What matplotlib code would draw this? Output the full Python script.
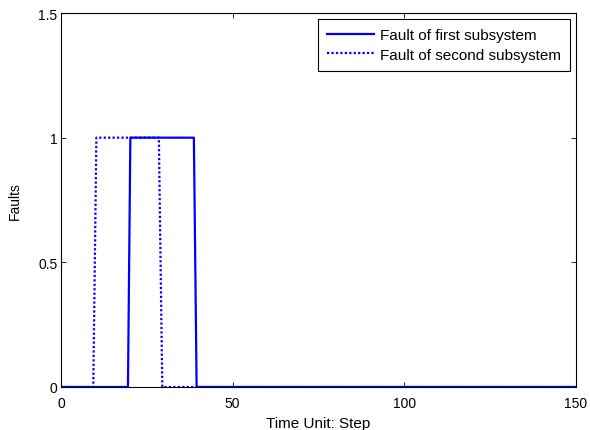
import matplotlib.pyplot as plt

plt.rcParams["font.family"] = ["Liberation Sans", "DejaVu Sans"]

# breakpoints of the two fault signals (time step, fault value)
first_t = [0, 19.5, 20.2, 38.7, 39.5, 150]
first_v = [0, 0, 1, 1, 0, 0]
second_t = [0, 9.4, 10.3, 28.5, 29.5, 150]
second_v = [0, 0, 1, 1, 0, 0]

x_ticks = [0, 50, 100, 150]
y_ticks = [0, 0.5, 1, 1.5]
y_tick_labels = ["0", "0.5", "1", "1.5"]

fig = plt.figure(figsize=(5.9, 4.31), dpi=100)
ax = fig.add_axes([0.1034, 0.0998, 0.8729, 0.8677])

ax.plot(first_t, first_v, color="#0000ff", lw=1.6, label="Fault of first subsystem")
ax.plot(second_t, second_v, color="#0000ff", lw=1.6, ls=(0, (1, 1)),
        label="Fault of second subsystem")

ax.set_xlim(0, 150)
ax.set_ylim(0, 1.5)
ax.set_xticks(x_ticks)
ax.set_yticks(y_ticks)
ax.set_yticklabels(y_tick_labels)
ax.tick_params(direction="in", length=3.5, width=0.6, top=True, right=True,
               labelsize=10)
ax.tick_params(axis="x", pad=6.5)
ax.tick_params(axis="y", pad=2.5)
for s in ax.spines.values():
    s.set_linewidth(0.8)

ax.set_xlabel("Time Unit: Step", fontsize=11, labelpad=4)
ax.set_ylabel("Faults", fontsize=10, labelpad=12)

leg = ax.legend(loc="upper right", fontsize=11, frameon=True, fancybox=False,
                edgecolor="black", framealpha=1, borderaxespad=0.4,
                handlelength=3.1, handletextpad=0.35, borderpad=0.6,
                labelspacing=0.35)
leg.get_frame().set_linewidth(0.8)

fig.savefig("out.png", dpi=100)
